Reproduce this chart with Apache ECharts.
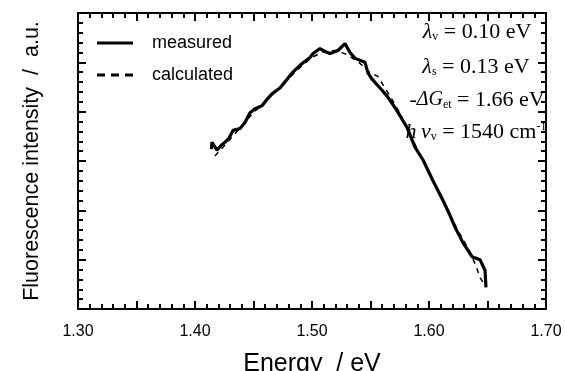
<!DOCTYPE html>
<html>
<head>
<meta charset="utf-8">
<script src="https://cdn.jsdelivr.net/npm/echarts@6/dist/echarts.min.js"></script>
<style>
html,body{margin:0;padding:0;background:#fff;}
#chart{width:565px;height:371px;}
</style>
</head>
<body>
<div id="chart"></div>
<script>
// ---- data ----
const xTickLabels = ['1.30', '1.40', '1.50', '1.60', '1.70'];
const seriesNames = ['measured', 'calculated'];

const measuredEnergy = [1.4140,1.4145,1.4160,1.4188,1.4225,1.4256,1.4290,1.4325,1.4385,1.4427,1.4470,1.4513,1.4573,1.4620,1.4658,1.4726,1.4795,1.4829,1.4897,1.4983,1.5009,1.5068,1.5110,1.5154,1.5222,1.5282,1.5325,1.5368,1.5453,1.5479,1.5513,1.5581,1.5641,1.5726,1.5812,1.5880,1.5949,1.6034,1.6120,1.6179,1.6222,1.6291,1.6368,1.6436,1.6479,1.6487];
const measuredIntensity = [16.2,16.9,16.9,16.1,16.6,16.9,17.3,18.1,18.3,18.9,19.9,20.3,20.6,21.3,21.8,22.4,23.4,23.9,24.7,25.5,25.9,26.4,26.1,25.9,26.2,26.9,26.0,25.4,25.0,23.9,23.3,22.4,21.6,20.1,18.4,16.4,15.1,13.0,11.0,9.5,8.3,6.7,5.3,5.0,3.9,2.2];

const calcEnergy = [1.4170,1.4300,1.4500,1.4700,1.4900,1.5000,1.5100,1.5200,1.5300,1.5400,1.5500,1.5560,1.5650,1.5750,1.5850,1.5950,1.6050,1.6150,1.6250,1.6350,1.6400,1.6440,1.6480];
const calcIntensity = [15.5,17.2,19.9,22.2,24.5,25.5,26.1,26.2,25.8,25.0,23.9,23.6,21.9,19.9,17.4,15.0,12.6,10.2,7.9,5.8,4.4,3.1,2.4];

const annotations = [
  '{i|λ}{sub|v}{n| = 0.10 eV}',
  '{i|λ}{sub|s}{n| = 0.13 eV}',
  '{n|-}{g|ΔG}{sub|et}{n| = 1.66 eV}',
  '{i|h\u2009ν}{sub|v}{n| = 1540 cm}{sup|-1}'
];

// ---- chart ----
const SANS = "'Liberation Sans', Arial, sans-serif";
const SERIF = "'Liberation Serif', 'Times New Roman', serif";
const measuredData = measuredEnergy.map((e, i) => [e, measuredIntensity[i]]);
const calcData = calcEnergy.map((e, i) => [e, calcIntensity[i]]);

const chart = echarts.init(document.getElementById('chart'), null, {renderer: 'canvas'});

function xAxisCfg(pos, showLabel) {
  return {
    type: 'value', position: pos, min: 1.30, max: 1.70, interval: 0.05,
    axisLine: {show: true, onZero: false, lineStyle: {color: '#000', width: 2}},
    axisTick: {show: true, inside: true, length: 8, lineStyle: {color: '#000', width: 2}},
    splitLine: {show: false},
    axisLabel: {
      show: showLabel, margin: 15, color: '#000', fontFamily: SANS, fontSize: 16,
      formatter: v => { const s = v.toFixed(2); return xTickLabels.includes(s) ? s : ''; }
    },
    name: showLabel ? 'Energy  / eV' : '', nameLocation: 'middle', nameGap: 43,
    nameTextStyle: {color: '#000', fontFamily: SANS, fontSize: 25}
  };
}
function xMinorCfg(pos) {
  return {
    type: 'value', position: pos, min: 1.30, max: 1.70, interval: 0.01,
    axisLine: {show: true, onZero: false, lineStyle: {color: '#000', width: 2}},
    axisTick: {show: true, inside: true, length: 5, lineStyle: {color: '#000', width: 2}},
    splitLine: {show: false}, axisLabel: {show: false}
  };
}
function yAxisCfg(pos, showName) {
  return {
    type: 'value', position: pos, min: 0, max: 30, interval: 5,
    axisLine: {show: true, onZero: false, lineStyle: {color: '#000', width: 2}},
    axisTick: {show: true, inside: true, length: 8, lineStyle: {color: '#000', width: 2}},
    splitLine: {show: false},
    axisLabel: {show: false},
    name: showName ? 'Fluorescence intensity  /  a.u.' : '', nameLocation: 'middle', nameGap: 35,
    nameTextStyle: {color: '#000', fontFamily: SANS, fontSize: 21.5}
  };
}
function yMinorCfg(pos) {
  return {
    type: 'value', position: pos, min: 0, max: 30, interval: 1,
    axisLine: {show: true, onZero: false, lineStyle: {color: '#000', width: 2}},
    axisTick: {show: true, inside: true, length: 5, lineStyle: {color: '#000', width: 2}},
    splitLine: {show: false}, axisLabel: {show: false}
  };
}

const richStyles = {
  i: {fontFamily: SERIF, fontSize: 22, fontStyle: 'italic', color: '#000'},
  g: {fontFamily: SERIF, fontSize: 20, fontStyle: 'italic', color: '#000'},
  n: {fontFamily: SERIF, fontSize: 22, color: '#000'},
  sub: {fontFamily: SERIF, fontSize: 12, color: '#000', verticalAlign: 'bottom', padding: [9, 0, 0, 0]},
  sup: {fontFamily: SERIF, fontSize: 12, color: '#000', verticalAlign: 'top', padding: [0, 0, 7, 0]}
};
const annY = [32, 67, 100, 132];
const annX = [477, 476, 477, 476];

chart.setOption({
  backgroundColor: '#fff',
  animation: false,
  grid: {left: 78, right: 19, top: 13, bottom: 62, containLabel: false, outerBoundsMode: 'none'},
  xAxis: [xAxisCfg('bottom', true), xAxisCfg('top', false), xMinorCfg('bottom'), xMinorCfg('top')],
  yAxis: [yAxisCfg('left', true), yAxisCfg('right', false), yMinorCfg('left'), yMinorCfg('right')],
  legend: {
    show: true, orient: 'vertical', left: 92, top: 29, itemWidth: 36, itemHeight: 3, itemGap: 14,
    data: [
      {name: seriesNames[0], icon: 'path://M0,0h36v3h-36z'},
      {name: seriesNames[1], icon: 'path://M0,0h8v3h-8z M14,0h8v3h-8z M28,0h8v3h-8z'}
    ],
    itemStyle: {color: '#000'},
    textStyle: {color: '#000', fontFamily: SANS, fontSize: 18, padding: [0, 0, 0, 14]}
  },
  series: [
    {
      name: seriesNames[1], type: 'line', data: calcData, symbol: 'none', showSymbol: false, z: 2,
      xAxisIndex: 0, yAxisIndex: 0,
      lineStyle: {color: '#000', width: 1.5, type: [5, 5]}, itemStyle: {color: '#000'}
    },
    {
      name: seriesNames[0], type: 'line', data: measuredData, symbol: 'none', showSymbol: false, z: 3,
      xAxisIndex: 0, yAxisIndex: 0,
      lineStyle: {color: '#000', width: 3.2}, itemStyle: {color: '#000'}
    },
    {name: 'tick-bottom-left', type: 'line', data: [], xAxisIndex: 2, yAxisIndex: 2, silent: true},
    {name: 'tick-top-right', type: 'line', data: [], xAxisIndex: 3, yAxisIndex: 3, silent: true}
  ],
  graphic: annotations.map((t, k) => ({
    type: 'text', x: annX[k], y: annY[k], z: 10,
    style: {text: t, rich: richStyles, align: 'center', verticalAlign: 'middle'}
  }))
});
</script>
</body>
</html>
